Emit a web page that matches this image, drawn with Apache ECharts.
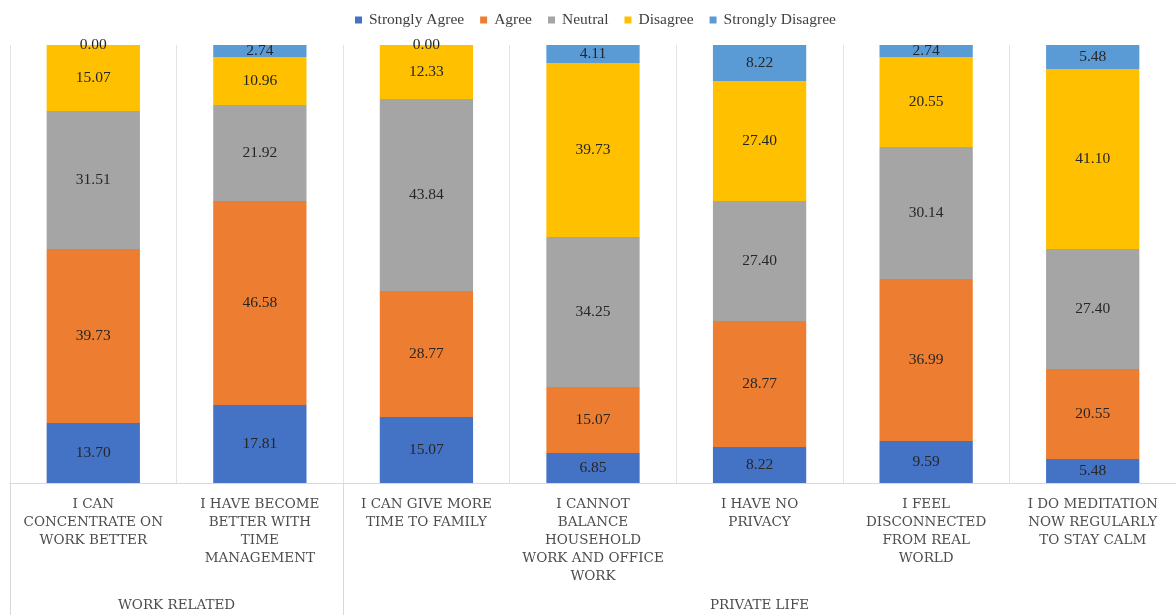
<!DOCTYPE html>
<html>
<head>
<meta charset="utf-8">
<script src="https://cdn.jsdelivr.net/npm/echarts@6/dist/echarts.min.js"></script>
<style>html,body{margin:0;padding:0;background:#fff}#c{width:1176px;height:615px}</style>
</head>
<body>
<div id="c"></div>
<script>
const categories = [
  'I CAN\nCONCENTRATE ON\nWORK BETTER',
  'I HAVE BECOME\nBETTER WITH\nTIME\nMANAGEMENT',
  'I CAN GIVE MORE\nTIME TO FAMILY',
  'I CANNOT\nBALANCE\nHOUSEHOLD\nWORK AND OFFICE\nWORK',
  'I HAVE NO\nPRIVACY',
  'I FEEL\nDISCONNECTED\nFROM REAL\nWORLD',
  'I DO MEDITATION\nNOW REGULARLY\nTO STAY CALM'
];
const groupNames = ['WORK RELATED', 'PRIVATE LIFE'];
const groupSizes = [2, 5];
const seriesNames = ['Strongly Agree', 'Agree', 'Neutral', 'Disagree', 'Strongly Disagree'];
const stronglyAgree = [13.70, 17.81, 15.07, 6.85, 8.22, 9.59, 5.48];
const agree = [39.73, 46.58, 28.77, 15.07, 28.77, 36.99, 20.55];
const neutral = [31.51, 21.92, 43.84, 34.25, 27.40, 30.14, 27.40];
const disagree = [15.07, 10.96, 12.33, 39.73, 27.40, 20.55, 41.10];
const stronglyDisagree = [0.00, 2.74, 0.00, 4.11, 8.22, 2.74, 5.48];
const colors = ['#4472C4', '#ED7D31', '#A5A5A5', '#FFC000', '#5B9BD5'];

const allData = [stronglyAgree, agree, neutral, disagree, stronglyDisagree];
const serif = 'Liberation Serif, Times New Roman, serif';
const capsFont = 'DejaVu Serif, Liberation Serif, serif';

const bounds = [0];
groupSizes.forEach(s => bounds.push(bounds[bounds.length - 1] + s));
const centers = groupSizes.map((s, i) => bounds[i] + s / 2);

const chart = echarts.init(document.getElementById('c'));
chart.setOption({
  animation: false,
  color: colors,
  legend: {
    top: 7,
    left: 350,
    icon: 'rect',
    itemWidth: 7,
    itemHeight: 7,
    itemGap: 16,
    textStyle: { fontFamily: serif, fontSize: 15.5, color: '#404040', padding: [0, 0, 0, 2] },
    data: seriesNames
  },
  grid: { left: 10, right: 0, top: 45, bottom: 132, containLabel: false },
  xAxis: [
    {
      type: 'category',
      data: categories,
      boundaryGap: true,
      axisLine: { show: true, lineStyle: { color: '#D9D9D9', width: 1 } },
      axisTick: { show: false },
      splitLine: { show: true, interval: 0, lineStyle: { color: '#E3E3E3', width: 1 } },
      axisLabel: {
        interval: 0,
        margin: 12,
        fontFamily: capsFont,
        fontSize: 13.5,
        lineHeight: 18,
        color: '#4d4d4d',
        align: 'center'
      }
    },
    {
      type: 'value',
      min: 0,
      max: categories.length,
      position: 'bottom',
      axisLine: { show: false },
      splitLine: { show: false },
      axisTick: {
        show: true,
        customValues: bounds,
        length: 132,
        lineStyle: { color: '#D9D9D9', width: 1 }
      },
      axisLabel: {
        show: true,
        customValues: centers,
        margin: 115,
        fontFamily: capsFont,
        fontSize: 13.5,
        color: '#4d4d4d',
        formatter: function (v) {
          const i = centers.indexOf(v);
          return i >= 0 ? groupNames[i] : '';
        }
      }
    }
  ],
  yAxis: {
    type: 'value',
    min: 0,
    max: 100.01,
    show: false,
    splitLine: { show: false }
  },
  series: seriesNames.map((name, i) => ({
    name: name,
    type: 'bar',
    stack: 'total',
    xAxisIndex: 0,
    barWidth: '56%',
    data: allData[i],
    label: {
      show: true,
      position: 'inside',
      fontFamily: serif,
      fontSize: 15.5,
      color: '#262626',
      formatter: p => p.value.toFixed(2)
    }
  }))
});
</script>
</body>
</html>
